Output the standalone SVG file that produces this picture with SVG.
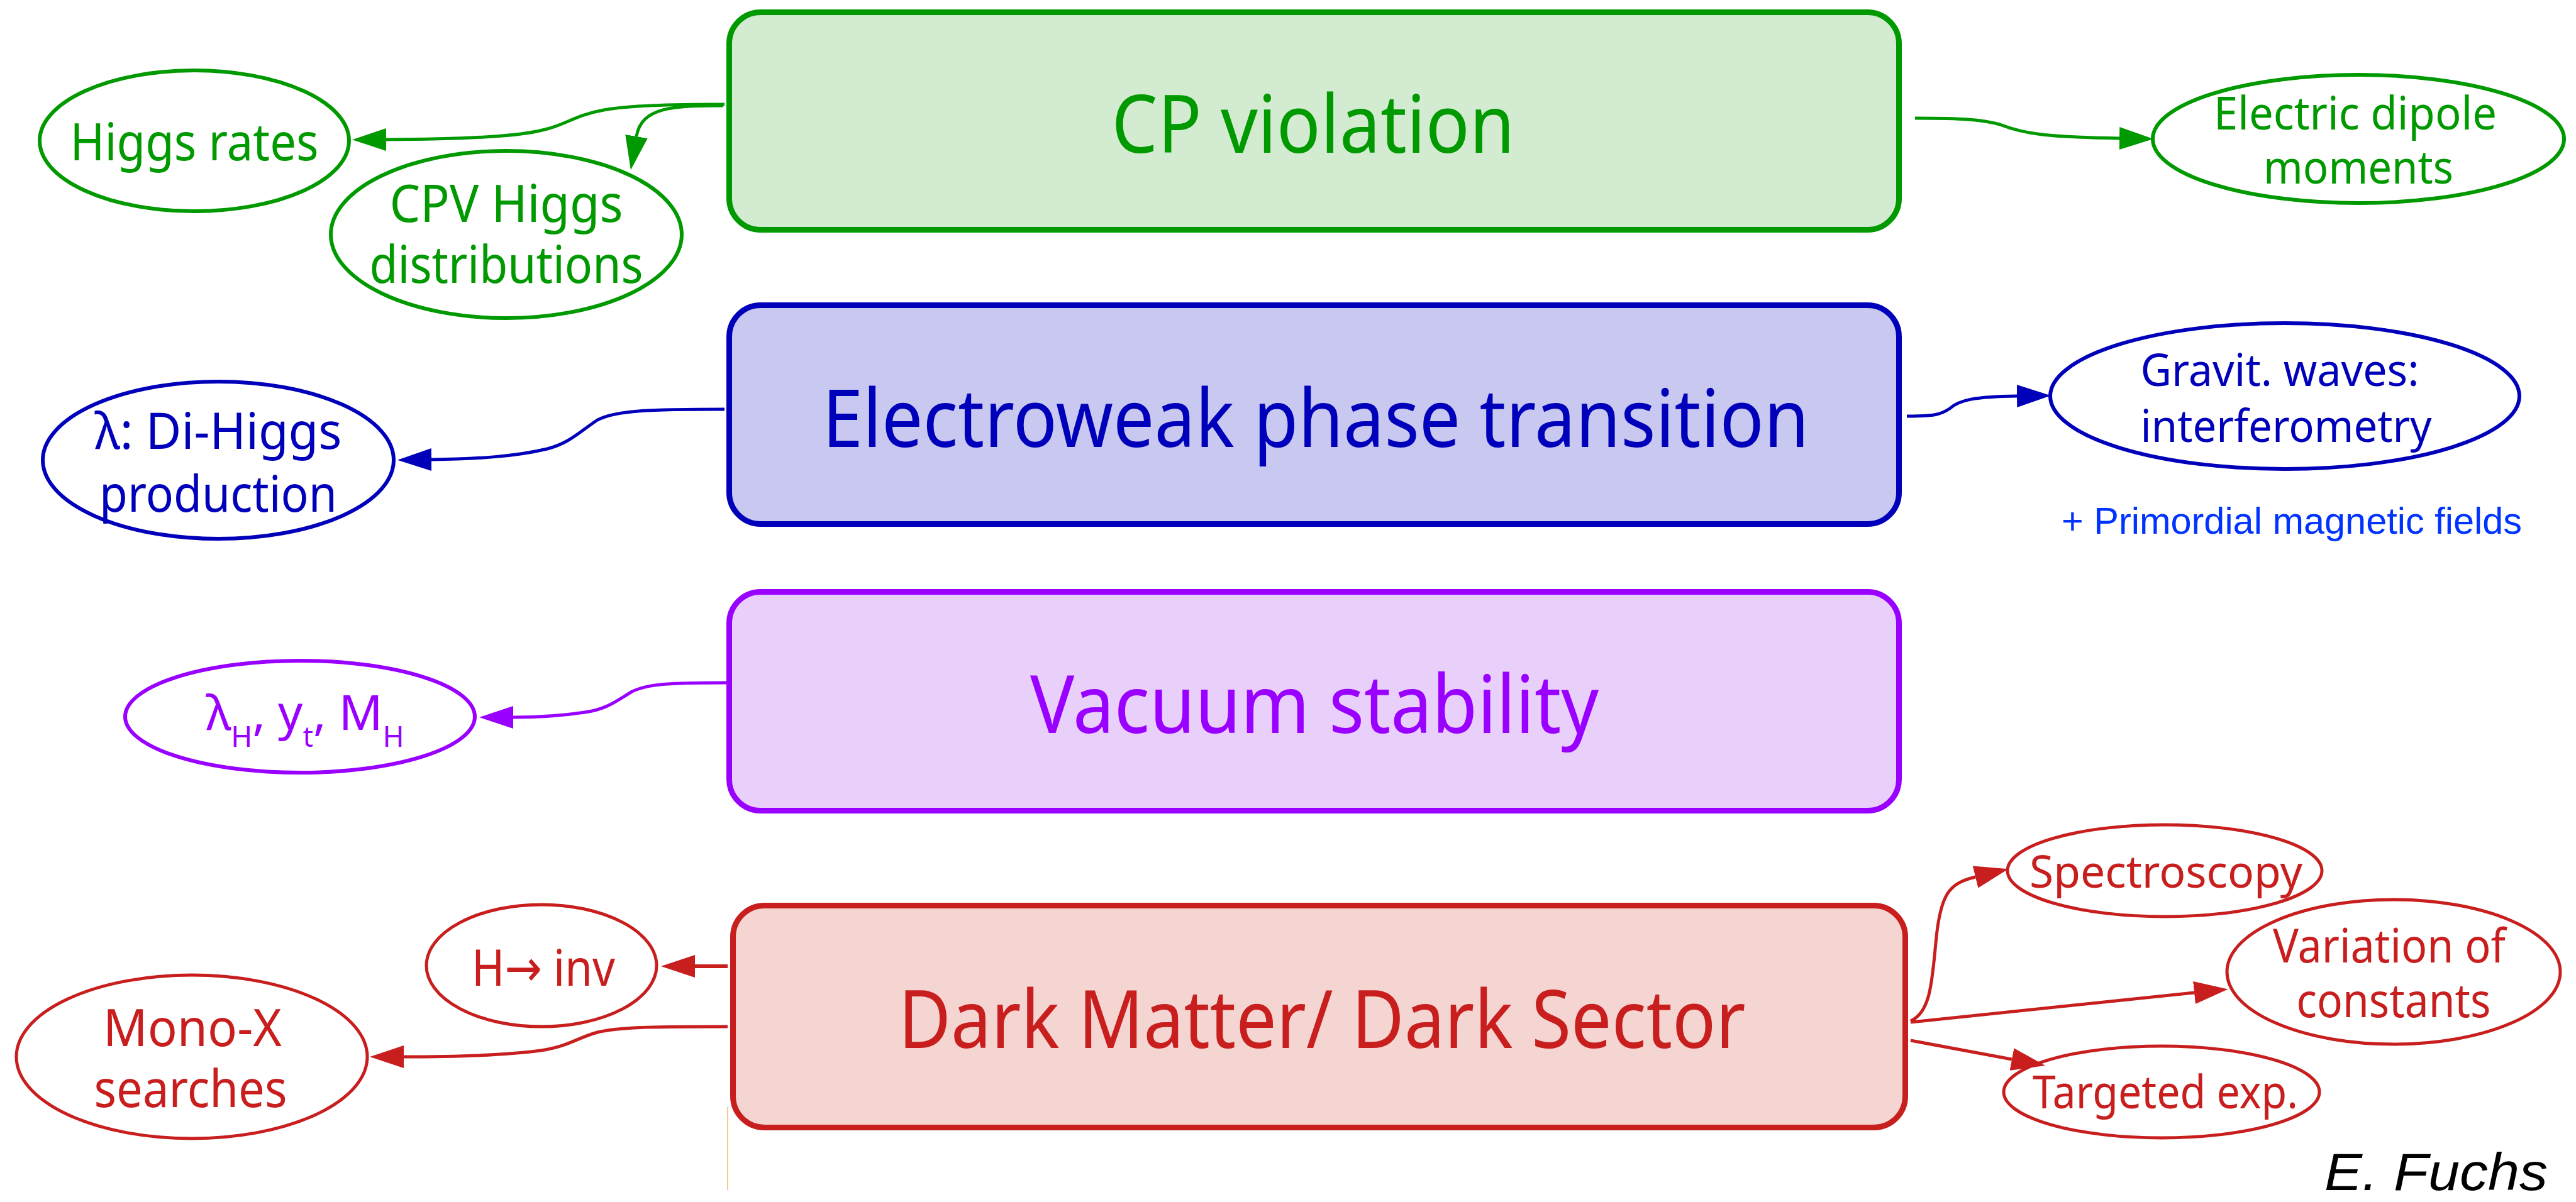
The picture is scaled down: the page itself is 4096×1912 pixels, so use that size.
<svg xmlns="http://www.w3.org/2000/svg" width="4096" height="1912" viewBox="0 0 4096 1912">
<defs>
<style>
.t{font-family:'Noto Sans','Open Sans','DejaVu Sans',sans-serif;text-anchor:middle}
.big{font-size:128px}
.box{stroke-width:9}
.ell{fill:#ffffff;stroke-width:6}
.con{fill:none;stroke-width:5}
.gS{stroke:#009900}.gF{fill:#009900}
.bS{stroke:#0000bb}.bF{fill:#0000bb}
.pS{stroke:#9900ff}.pF{fill:#9900ff}
.rS{stroke:#c81e1e}.rF{fill:#c81e1e}
</style>
<marker id="ag" markerUnits="userSpaceOnUse" markerWidth="54" markerHeight="36" viewBox="0 0 54 36" refX="0" refY="18" orient="auto"><path d="M0,0 L54,18 L0,36 z" fill="#009900"/></marker>
<marker id="ab" markerUnits="userSpaceOnUse" markerWidth="54" markerHeight="36" viewBox="0 0 54 36" refX="0" refY="18" orient="auto"><path d="M0,0 L54,18 L0,36 z" fill="#0000bb"/></marker>
<marker id="ap" markerUnits="userSpaceOnUse" markerWidth="54" markerHeight="36" viewBox="0 0 54 36" refX="0" refY="18" orient="auto"><path d="M0,0 L54,18 L0,36 z" fill="#9900ff"/></marker>
<marker id="ar" markerUnits="userSpaceOnUse" markerWidth="54" markerHeight="36" viewBox="0 0 54 36" refX="0" refY="18" orient="auto"><path d="M0,0 L54,18 L0,36 z" fill="#c81e1e"/></marker>
</defs>
<rect x="0" y="0" width="4096" height="1912" fill="#ffffff"/>

<g id="node-cp-violation">
<rect class="box gS" x="1159.5" y="19.5" width="1860" height="346" rx="50" fill="#d3ebd0"/>
<text class="t big gF" x="2088" y="243" textLength="641" lengthAdjust="spacingAndGlyphs">CP violation</text>
</g>
<g id="node-ewpt">
<rect class="box bS" x="1159.5" y="485.5" width="1860" height="348" rx="50" fill="#c8c8f0"/>
<text class="t big bF" x="2092" y="711" textLength="1569" lengthAdjust="spacingAndGlyphs">Electroweak phase transition</text>
</g>
<g id="node-vacuum">
<rect class="box pS" x="1159.5" y="941.5" width="1860" height="348" rx="50" fill="#e8d0fb"/>
<text class="t big pF" x="2090" y="1166" textLength="904" lengthAdjust="spacingAndGlyphs">Vacuum stability</text>
</g>
<g id="node-dark">
<rect class="box rS" x="1165.5" y="1440.5" width="1864" height="353" rx="50" fill="#f4d5d1"/>
<text class="t big rF" x="2102" y="1667" textLength="1347" lengthAdjust="spacingAndGlyphs">Dark Matter/ Dark Sector</text>
</g>

<g id="node-higgs-rates">
<ellipse class="ell gS" cx="309" cy="224" rx="246" ry="112"/>
<text class="t gF" font-size="82" x="309" y="255" textLength="395" lengthAdjust="spacingAndGlyphs">Higgs rates</text>
</g>
<g id="node-cpv-higgs">
<ellipse class="ell gS" cx="805" cy="373" rx="279" ry="133"/>
<text class="t gF" font-size="82" x="805" y="353" textLength="371" lengthAdjust="spacingAndGlyphs">CPV Higgs</text>
<text class="t gF" font-size="82" x="805" y="450" textLength="435" lengthAdjust="spacingAndGlyphs">distributions</text>
</g>
<g id="node-edm">
<ellipse class="ell gS" cx="3750" cy="221" rx="327" ry="102"/>
<text class="t gF" font-size="73" x="3745" y="206" textLength="450" lengthAdjust="spacingAndGlyphs">Electric dipole</text>
<text class="t gF" font-size="73" x="3750" y="292" textLength="302" lengthAdjust="spacingAndGlyphs">moments</text>
</g>
<g id="node-dihiggs">
<ellipse class="ell bS" cx="347" cy="732" rx="279" ry="125"/>
<text class="t bF" font-size="80" x="347" y="714" textLength="393" lengthAdjust="spacingAndGlyphs">λ: Di-Higgs</text>
<text class="t bF" font-size="80" x="347" y="814" textLength="378" lengthAdjust="spacingAndGlyphs">production</text>
</g>
<g id="node-gw">
<ellipse class="ell bS" cx="3633" cy="630" rx="373" ry="116"/>
<text class="t bF" font-size="72" x="3625" y="614" textLength="443" lengthAdjust="spacingAndGlyphs">Gravit. waves:</text>
<text class="t bF" font-size="72" x="3635" y="703" textLength="463" lengthAdjust="spacingAndGlyphs">interferometry</text>
</g>
<text id="note-pmf" x="3278" y="849" font-family="'Liberation Sans',Arial,sans-serif" font-size="60" fill="#0033ff" textLength="732" lengthAdjust="spacingAndGlyphs">+ Primordial magnetic fields</text>
<g id="node-lambda-h">
<ellipse class="ell pS" cx="477" cy="1140" rx="278" ry="89"/>
<text class="t pF" font-size="77" x="485" y="1161">λ<tspan font-size="46" dy="27">H</tspan><tspan dy="-27">, y</tspan><tspan font-size="46" dy="27">t</tspan><tspan dy="-27">, M</tspan><tspan font-size="46" dy="27">H</tspan></text>
</g>
<g id="node-hinv">
<ellipse class="ell rS" cx="861" cy="1536" rx="183" ry="97" style="stroke-width:5"/>
<text class="t rF" font-size="81" x="864" y="1568" textLength="228" lengthAdjust="spacingAndGlyphs">H→ inv</text>
</g>
<g id="node-monox">
<ellipse class="ell rS" cx="305" cy="1681" rx="279" ry="130" style="stroke-width:5"/>
<text class="t rF" font-size="82" x="306" y="1664" textLength="284" lengthAdjust="spacingAndGlyphs">Mono-X</text>
<text class="t rF" font-size="82" x="303" y="1761" textLength="307" lengthAdjust="spacingAndGlyphs">searches</text>
</g>
<g id="node-spectroscopy">
<ellipse class="ell rS" cx="3442" cy="1385" rx="250" ry="73" style="stroke-width:5"/>
<text class="t rF" font-size="72" x="3444" y="1412" textLength="434" lengthAdjust="spacingAndGlyphs">Spectroscopy</text>
</g>
<g id="node-variation">
<ellipse class="ell rS" cx="3806" cy="1546" rx="265" ry="115" style="stroke-width:5"/>
<text class="t rF" font-size="74" x="3799" y="1531" textLength="370" lengthAdjust="spacingAndGlyphs">Variation of</text>
<text class="t rF" font-size="74" x="3806" y="1618" textLength="309" lengthAdjust="spacingAndGlyphs">constants</text>
</g>
<g id="node-targeted">
<ellipse class="ell rS" cx="3437" cy="1737" rx="251" ry="73" style="stroke-width:5"/>
<text class="t rF" font-size="73" x="3443" y="1763" textLength="422" lengthAdjust="spacingAndGlyphs">Targeted exp.</text>
</g>

<line id="mark-line" x1="1157" y1="1761" x2="1157" y2="1893" stroke="#f2b66b" stroke-width="1.5"/>
<text id="author" x="3696" y="1893" font-family="'Liberation Sans',Arial,sans-serif" font-style="italic" font-size="84" fill="#000000" textLength="355" lengthAdjust="spacingAndGlyphs">E. Fuchs</text>

<g id="connectors">
<path class="con gS" d="M1152,166 C1060,166 1000,168 960,175 C915,183 900,198 870,205 C840,214 780,221 614,222" marker-end="url(#ag)"/>
<path class="con gS" d="M1150,168 C1070,168 1020,170 1012,217" marker-end="url(#ag)"/>
<path class="con gS" d="M3045,188 C3120,188 3150,190 3180,198 C3220,214 3260,218 3370,220" marker-end="url(#ag)"/>
<path class="con bS" d="M1152,651 C1040,651 980,652 950,668 C920,688 905,705 870,714 C820,726 760,730 686,731" marker-end="url(#ab)"/>
<path class="con bS" d="M3032,662 C3075,662 3085,660 3100,650 C3115,636 3140,631 3207,630" marker-end="url(#ab)"/>
<path class="con pS" d="M1156,1086 C1060,1086 1030,1088 1005,1100 C980,1115 965,1128 930,1133 C890,1139 850,1141 816,1141" marker-end="url(#ap)"/>
<path class="con rS" d="M1157,1537 L1105,1537" style="stroke-width:6" marker-end="url(#ar)"/>
<path class="con rS" d="M1157,1633 C1050,1633 990,1633 950,1642 C915,1652 905,1664 860,1671 C800,1679 720,1681 642,1681" marker-end="url(#ar)"/>
<path class="con rS" d="M3038,1624 C3070,1610 3072,1560 3078,1500 C3085,1420 3100,1405 3141,1395" marker-end="url(#ar)"/>
<path class="con rS" d="M3038,1626 L3489,1579" marker-end="url(#ar)"/>
<path class="con rS" d="M3038,1655 L3199,1685" marker-end="url(#ar)"/>
</g>
</svg>
